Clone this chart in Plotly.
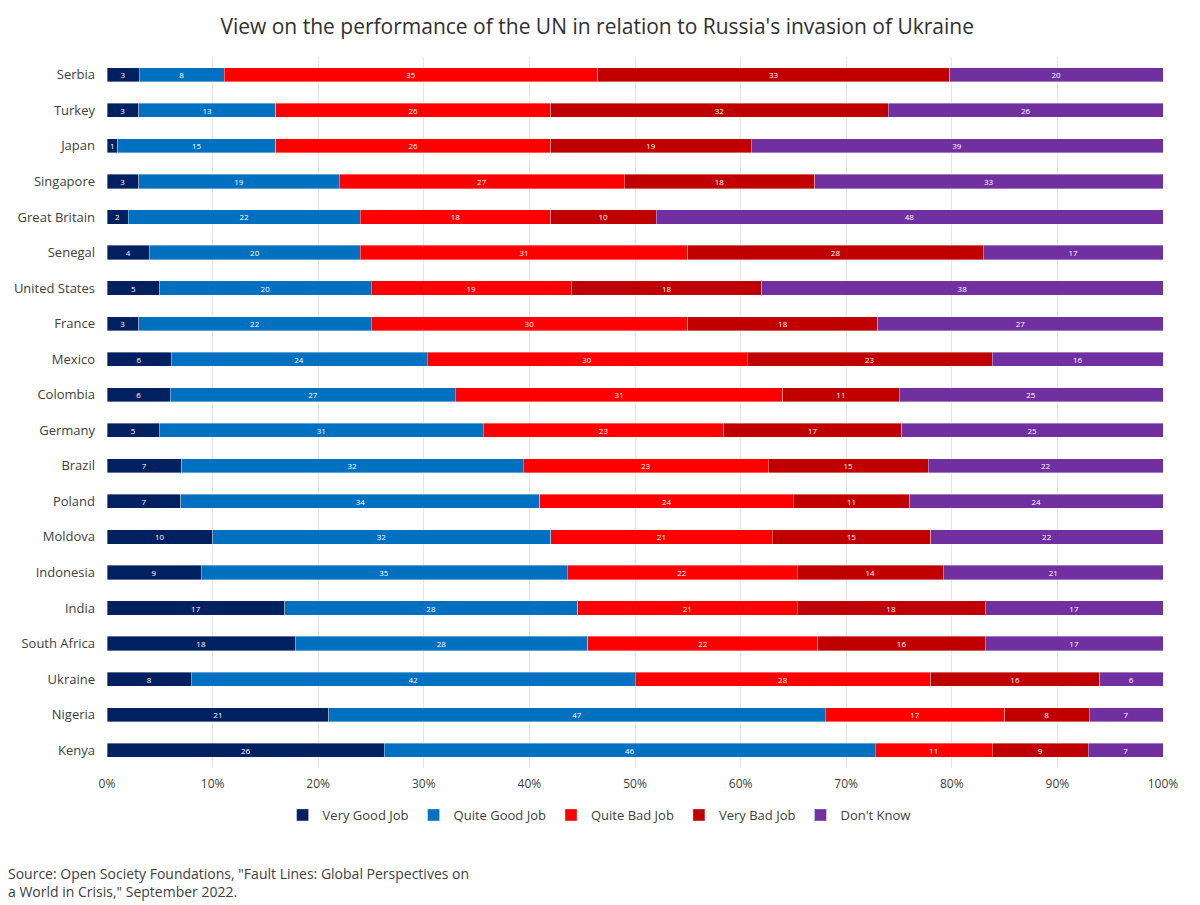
import plotly.graph_objects as go

countries = ["Serbia", "Turkey", "Japan", "Singapore", "Great Britain", "Senegal",
             "United States", "France", "Mexico", "Colombia", "Germany", "Brazil",
             "Poland", "Moldova", "Indonesia", "India", "South Africa", "Ukraine",
             "Nigeria", "Kenya"]

very_good = [3, 3, 1, 3, 2, 4, 5, 3, 6, 6, 5, 7, 7, 10, 9, 17, 18, 8, 21, 26]
quite_good = [8, 13, 15, 19, 22, 20, 20, 22, 24, 27, 31, 32, 34, 32, 35, 28, 28, 42, 47, 46]
quite_bad = [35, 26, 26, 27, 18, 31, 19, 30, 30, 31, 23, 23, 24, 21, 22, 21, 22, 28, 17, 11]
very_bad = [33, 32, 19, 18, 10, 28, 18, 18, 23, 11, 17, 15, 11, 15, 14, 18, 16, 16, 8, 9]
dont_know = [20, 26, 39, 33, 48, 17, 38, 27, 16, 25, 25, 22, 24, 22, 21, 17, 17, 6, 7, 7]

series_names = ["Very Good Job", "Quite Good Job", "Quite Bad Job", "Very Bad Job", "Don't Know"]
series_values = [very_good, quite_good, quite_bad, very_bad, dont_know]
series_colors = ["#002060", "#0070C0", "#FF0000", "#C00000", "#7030A0"]

tick_vals = [0, 10, 20, 30, 40, 50, 60, 70, 80, 90, 100]
tick_text = ["0%", "10%", "20%", "30%", "40%", "50%", "60%", "70%", "80%", "90%", "100%"]

FONT = "Open Sans"

fig = go.Figure()
for name, vals, col in zip(series_names, series_values, series_colors):
    fig.add_trace(go.Bar(
        y=countries, x=vals, name=name, orientation="h",
        marker=dict(color=col, line=dict(color="rgba(255,255,255,0.6)", width=0.6)),
        text=[str(v) for v in vals], textposition="inside", insidetextanchor="middle",
        textangle=0,
        textfont=dict(color="white", size=8, family=FONT),
        constraintext="none",
        hoverinfo="x+y+name",
    ))

# page renders with an 8px body offset; margins compensate for it
fig.update_layout(
    barmode="stack", barnorm="percent", bargap=0.6,
    width=1200, height=905,
    paper_bgcolor="white", plot_bgcolor="white",
    margin=dict(l=99, r=45, t=49, b=145),
    font=dict(family=FONT, color="#404040"),
    title=dict(text="View on the performance of the UN in relation to Russia's invasion of Ukraine",
               x=0.491, xanchor="center", xref="container", y=1 - 19 / 905, yanchor="middle",
               font=dict(size=21, color="#303030", family=FONT)),
    uniformtext=dict(minsize=7, mode="show"),
    legend=dict(orientation="h", x=0.466, xanchor="center", y=-0.066, yanchor="middle",
                font=dict(size=13, color="#404040"), itemwidth=30, traceorder="normal"),
    showlegend=True,
)
fig.update_xaxes(range=[0, 100], tickvals=tick_vals, ticktext=tick_text,
                 showgrid=True, gridcolor="#E6E6E6", gridwidth=1,
                 zeroline=False, showline=False, ticks="",
                 ticklabelstandoff=7, automargin=False,
                 tickfont=dict(size=12, color="#404040"))
fig.update_yaxes(autorange="reversed", showgrid=False, showline=False, ticks="",
                 ticklabelstandoff=11, automargin=False,
                 tickfont=dict(size=13, color="#404040"))

fig.add_annotation(
    text="Source: Open Society Foundations, \"Fault Lines: Global Perspectives on<br>a World in Crisis,\" September 2022.",
    xref="paper", yref="paper", x=-0.0956, y=-0.132, xanchor="left", yanchor="top",
    align="left", showarrow=False, font=dict(size=14, color="#404040", family=FONT),
)

fig.write_html("out.html")
